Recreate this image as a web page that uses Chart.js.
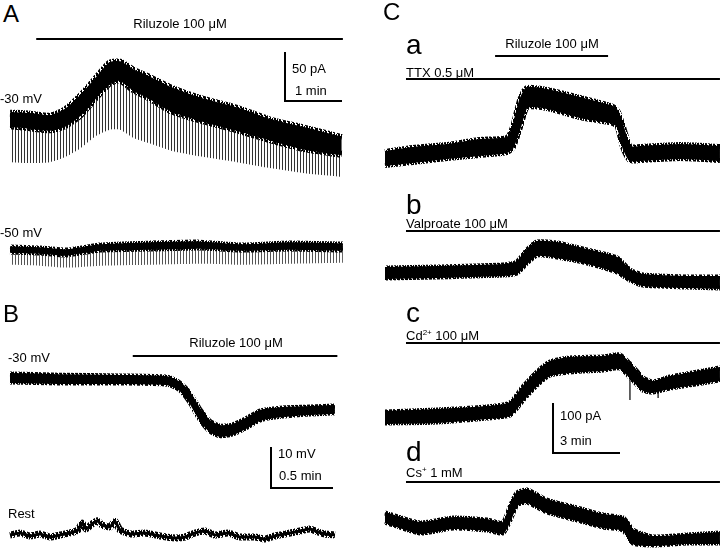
<!DOCTYPE html>
<html><head><meta charset="utf-8">
<script src="https://cdn.jsdelivr.net/npm/chart.js@4/dist/chart.umd.min.js"></script>
<style>
html,body{margin:0;padding:0;background:#fff;}
#wrap{position:relative;width:720px;height:549px;overflow:hidden;font-family:"Liberation Sans",Arial,sans-serif;color:#000;}
#wrap canvas{position:absolute;}
.lbl{position:absolute;white-space:nowrap;line-height:1;}
.sup{position:relative;top:-5px;font-size:8px;}
</style></head><body><div id="wrap"></div>
<script>
// ---------- DATA (time in min; current in pA / voltage in mV, relative to start) ----------
// Panel A, holding -30 mV
const a30Time  = [0,0.35,0.70,0.96,1.23,1.49,1.75,1.93,2.16,2.46,2.81,3.33,3.98,4.56,5.14,5.82];
const a30Upper = [7,6,4,10,24,41,58,59,51,43,33,22,12,0,-8,-18];
const a30Lower = [-6,-8,-10,-6,5,22,38,41,31,22,10,0,-10,-20,-29,-35];
const a30Spike = [-43,-44,-43,-38,-29,-17,-10,-10,-18,-24,-31,-37,-43,-49,-54,-58];
// Panel A, holding -50 mV
const a50Time  = [0,0.53,1.0,1.58,2.46,3.33,4.04,4.91,5.84];
const a50Upper = [2,1,-1,4,6,7,4,6,5];
const a50Lower = [-3,-4,-6,-1,0,1,-1,0,-1];
const a50Spike = [-16,-17,-19,-17,-16,-15,-16,-15,-14];
// Panel B, -30 mV (mV)
const b30Time  = [0,0.40,0.89,1.27,1.37,1.45,1.53,1.61,1.69,1.79,1.90,2.02,2.20,2.42,2.62];
const b30Upper = [1.0,0.7,0.5,0.2,-1.2,-3.7,-7.6,-10.5,-11.7,-11.5,-10.0,-8.0,-7.3,-7.1,-6.8];
const b30Lower = [-1.0,-1.2,-1.2,-1.5,-2.9,-5.9,-10.0,-12.9,-14.1,-13.7,-12.2,-10.2,-9.3,-8.8,-8.5];
// Panel B, rest (mV)
const bRestTime = [0,0.081,0.161,0.242,0.323,0.403,0.484,0.548,0.581,0.613,0.661,0.702,0.742,0.806,0.847,0.887,0.968,1.089,1.21,1.331,1.411,1.492,1.573,1.653,1.758,1.855,1.976,2.056,2.137,2.258,2.339,2.419,2.484,2.540,2.621];
const bRestV    = [0,0.49,-0.24,0.24,-0.49,0,0.49,1.22,2.9,1.46,2.68,3.5,2.44,1.95,3.3,1.22,0.24,0.49,-0.24,-0.73,-0.49,0.49,0.98,0,0.49,-0.49,-0.49,-0.98,-0.24,0.49,0.98,1.46,0.73,0.24,0];
// Panel C a: TTX
const caTime  = [0,1.25,2.78,4.25,5.46,5.73,6.05,6.36,7.25,8.73,10.21,10.43,10.66,10.97,11.42,13.21,15.0];
const caUpper = [12,20,26,36,40,62,116,140,136,120,102,92,62,22,22,26,22];
const caLower = [-14,-8,0,6,12,22,62,102,100,82,70,62,22,-4,-4,0,-4];
// Panel C b: Valproate
const cbTime  = [0,2.33,5.28,5.91,6.36,6.81,7.70,9.05,10.39,10.97,11.55,13.52,15.0];
const cbUpper = [10,12,16,22,46,62,60,46,30,6,-4,-8,-8];
const cbLower = [-10,-8,-4,0,20,36,32,20,2,-14,-24,-28,-30];
// Panel C c: Cd2+
const ccTime  = [0,2.33,4.57,5.60,6.18,6.81,7.39,8.28,9.76,10.52,11.10,11.55,12.0,12.76,15.0];
const ccUpper = [10,14,20,28,60,90,110,118,120,124,100,78,70,80,98];
const ccLower = [-12,-10,-2,4,34,64,84,90,94,98,74,54,50,58,74];
const ccArtTime = [10.97,12.23];
const ccArtTop  = [90,66];
const ccArtLow  = [34,38];
// Panel C d: Cs+
const cdTime  = [0,1.57,3.05,4.57,5.28,5.60,5.91,6.36,7.25,8.60,9.76,10.66,11.10,12.0,13.52,15.0];
const cdUpper = [10,-10,0,-4,-10,22,50,56,36,20,6,0,-24,-38,-34,-30];
const cdLower = [-8,-30,-20,-24,-30,-4,26,32,12,-4,-18,-24,-50,-54,-50,-50];
// Drug application periods (min)
const rilA = [0.46,5.84];
const rilB = [0.99,2.64];
const rilC = [4.93,9.99];
const preC = [0.94,15.0];
// Scale bars [time (min), amplitude]
const scaleA = [1,50];   // 1 min, 50 pA
const scaleB = [0.5,10]; // 0.5 min, 10 mV
const scaleC = [3,100];  // 3 min, 100 pA

// ---------- RENDERING ----------
const wrap = document.getElementById('wrap');
const pts = (t, v) => t.map((x,i)=>({x:x, y:v[i]}));

const annotPlugin = {
  id:'annot',
  afterDatasetsDraw(chart, args, o){
    const ctx = chart.ctx, xs = chart.scales.x, ys = chart.scales.y;
    ctx.save();
    ctx.strokeStyle = '#000'; ctx.lineWidth = 2; ctx.lineCap = 'butt';
    (o.bars||[]).forEach(b=>{
      const y = b.y - o.top;
      ctx.beginPath();
      ctx.moveTo(xs.getPixelForValue(b.range[0]), y);
      ctx.lineTo(xs.getPixelForValue(b.range[1]), y);
      ctx.stroke();
    });
    if (o.scale){
      const s = o.scale;
      const hl = Math.abs(xs.getPixelForValue(s.v[0]) - xs.getPixelForValue(0));
      const vl = Math.abs(ys.getPixelForValue(s.v[1]) - ys.getPixelForValue(0));
      const cx = s.x - o.left, cy = s.y - o.top;
      ctx.beginPath();
      ctx.moveTo(cx - hl, cy - vl);
      ctx.lineTo(cx - hl, cy);
      ctx.lineTo(cx, cy);
      ctx.stroke();
    }
    ctx.restore();
  }
};

function stripes(ctx, color, period){
  const c = document.createElement('canvas'); c.width = period; c.height = 4;
  const g = c.getContext('2d'); g.fillStyle = color; g.fillRect(0,0,1,4);
  return ctx.createPattern(c,'repeat');
}
// speckled texture used to give trace edges a noisy look (pure styling)
const FUZZ = ["X.XX.XX.","X.XX.X.X","X..XXX.X","XX.XXX.X","XX..XX..","XX.X.XX.",".XXX.XX.",".XXX..X."];
function fuzz(ctx){
  const c = document.createElement('canvas'); c.width = 8; c.height = 8;
  const g = c.getContext('2d'); g.fillStyle = '#000';
  FUZZ.forEach((row,r)=>{ for(let k=0;k<8;k++) if(row[k]==='X') g.fillRect(k,r,1,1); });
  return ctx.createPattern(c,'repeat');
}

// datasets 0 (upper) and 1 (lower) form the trace band; 2,3 add edge texture
function band(ctx, t, up, lo, bw, fw){
  const fz = fuzz(ctx);
  return [
    {data:pts(t,up), borderColor:'#000', borderWidth:bw, backgroundColor:'#000', fill:'+1', tension:0.2},
    {data:pts(t,lo), borderColor:'#000', borderWidth:bw, fill:false, tension:0.2},
    {data:pts(t,up), borderColor:fz, borderWidth:fw, fill:false, tension:0.2},
    {data:pts(t,lo), borderColor:fz, borderWidth:fw, fill:false, tension:0.2}
  ];
}
// spike envelope, filled down from the band's lower edge (dataset 1)
function spikes(ctx, t, sp, color){
  return {data:pts(t,sp), borderWidth:0, borderColor:'rgba(0,0,0,0)', backgroundColor:stripes(ctx,color,3), fill:1, tension:0.2};
}

function makeChart(spec){
  const cv = document.createElement('canvas');
  cv.width = spec.w; cv.height = spec.h;
  cv.style.left = spec.left+'px'; cv.style.top = spec.top+'px';
  cv.style.width = spec.w+'px'; cv.style.height = spec.h+'px';
  wrap.appendChild(cv);
  const ctx = cv.getContext('2d');
  const xmin = (spec.left - spec.x0)/spec.pxX, xmax = (spec.left + spec.w - spec.x0)/spec.pxX;
  const ymax = (spec.y0 - spec.top)/spec.pxY, ymin = (spec.y0 - spec.top - spec.h)/spec.pxY;
  new Chart(cv, {
    type:'line',
    data:{datasets: spec.datasets(ctx)},
    options:{
      responsive:false, animation:false, events:[], devicePixelRatio:1,
      layout:{padding:0},
      elements:{point:{radius:0}},
      plugins:{legend:{display:false}, tooltip:{enabled:false},
        annot:{top:spec.top, left:spec.left, bars:spec.bars||[], scale:spec.scale||null}},
      scales:{
        x:{type:'linear', display:false, min:xmin, max:xmax},
        y:{type:'linear', display:false, min:ymin, max:ymax}
      }
    },
    plugins:[annotPlugin]
  });
}

// Panel A: -30 mV
makeChart({left:0, top:30, w:360, h:155, x0:10, pxX:57, y0:120, pxY:0.98,
  bars:[{range:rilA, y:39}], scale:{v:scaleA, x:342, y:101},
  datasets: ctx => band(ctx, a30Time, a30Upper, a30Lower, 2, 7).concat([spikes(ctx, a30Time, a30Spike, '#333')])});
// Panel A: -50 mV
makeChart({left:0, top:225, w:360, h:55, x0:10, pxX:57, y0:249, pxY:0.98,
  datasets: ctx => band(ctx, a50Time, a50Upper, a50Lower, 1.5, 5).concat([spikes(ctx, a50Time, a50Spike, '#555')])});
// Panel B: -30 mV
makeChart({left:0, top:330, w:360, h:170, x0:10, pxX:124, y0:378, pxY:4.1,
  bars:[{range:rilB, y:356}], scale:{v:scaleB, x:333, y:488},
  datasets: ctx => band(ctx, b30Time, b30Upper, b30Lower, 2, 5)});
// Panel B: rest
makeChart({left:0, top:505, w:360, h:44, x0:10, pxX:124, y0:535, pxY:4.1,
  datasets: ctx => [
    {data:pts(bRestTime,bRestV), borderColor:'#000', borderWidth:3, fill:false, tension:0.15},
    {data:pts(bRestTime,bRestV), borderColor:fuzz(ctx), borderWidth:7, fill:false, tension:0.15}
  ]});
// Panel C a
makeChart({left:370, top:30, w:350, h:145, x0:385, pxX:22.33, y0:158, pxY:0.5,
  bars:[{range:rilC, y:56},{range:preC, y:79}],
  datasets: ctx => band(ctx, caTime, caUpper, caLower, 2, 6)});
// Panel C b
makeChart({left:370, top:220, w:350, h:80, x0:385, pxX:22.33, y0:273, pxY:0.5,
  bars:[{range:preC, y:231}],
  datasets: ctx => band(ctx, cbTime, cbUpper, cbLower, 2, 5)});
// Panel C c
makeChart({left:370, top:335, w:350, h:125, x0:385, pxX:22.33, y0:417, pxY:0.5,
  bars:[{range:preC, y:343}], scale:{v:scaleC, x:620, y:453},
  datasets: ctx => band(ctx, ccTime, ccUpper, ccLower, 2, 5).concat(
    ccArtTime.map((t,i)=>({data:[{x:t,y:ccArtTop[i]},{x:t,y:ccArtLow[i]}], borderColor:'#000', borderWidth:1.2, fill:false})))});
// Panel C d
makeChart({left:370, top:475, w:350, h:74, x0:385, pxX:22.33, y0:518, pxY:0.5,
  bars:[{range:preC, y:482}],
  datasets: ctx => band(ctx, cdTime, cdUpper, cdLower, 2, 5)});

// ---------- TEXT ----------
function label(html, x, baseline, size, align){
  const d = document.createElement('div');
  d.className = 'lbl'; d.innerHTML = html;
  d.style.fontSize = size+'px';
  d.style.top = (baseline - 0.8465*size)+'px';
  d.style.left = x+'px';
  if (align === 'center') d.style.transform = 'translateX(-50%)';
  wrap.appendChild(d);
}
label('A', 3, 22, 24);
label('Riluzole 100 μM', 180, 28, 13, 'center');
label('50 pA', 292, 73, 13);
label('1 min', 295, 95, 13);
label('-30 mV', 0, 103, 13);
label('-50 mV', 0, 237, 13);
label('B', 3, 322, 24);
label('-30 mV', 8, 362, 13);
label('Riluzole 100 μM', 236, 347, 13, 'center');
label('10 mV', 278, 458, 13);
label('0.5 min', 279, 480, 13);
label('Rest', 8, 518, 13);
label('C', 383, 20, 24);
label('a', 406, 55, 28);
label('Riluzole 100 μM', 552, 48, 13, 'center');
label('TTX 0.5 μM', 406, 77, 13);
label('b', 406, 215, 28);
label('Valproate 100 μM', 406, 228, 13);
label('c', 406, 323, 28);
label('Cd<span class="sup">2+</span> 100 μM', 406, 340, 13);
label('100 pA', 560, 420, 13);
label('3 min', 560, 445, 13);
label('d', 406, 462, 28);
label('Cs<span class="sup">+</span> 1 mM', 406, 477, 13);
</script>
</body></html>
